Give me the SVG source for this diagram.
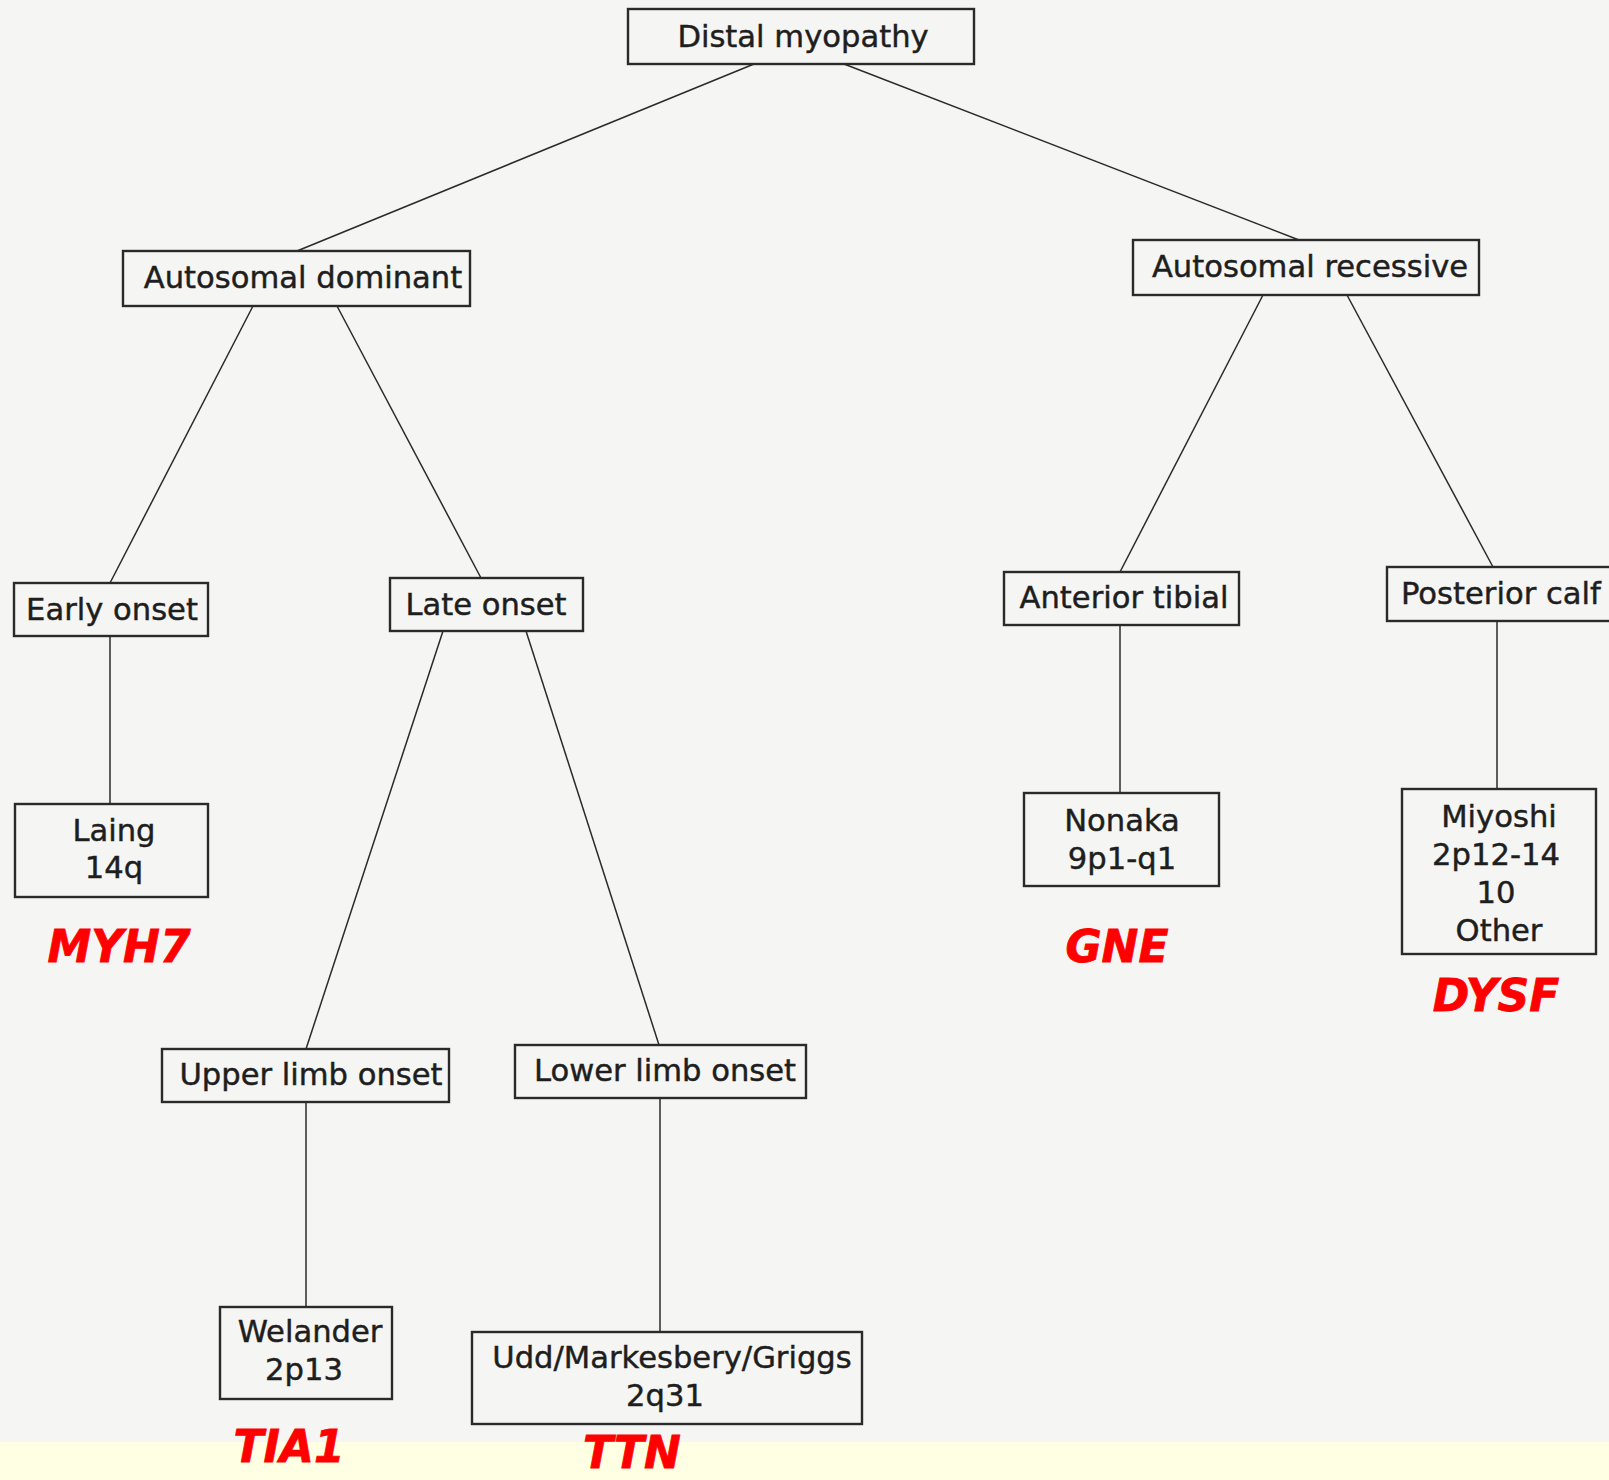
<svg xmlns="http://www.w3.org/2000/svg" width="1609" height="1480" viewBox="0 0 1609 1480">
  <style>
    .box rect { fill: none; stroke: #2a2a2a; stroke-width: 2.4; }
    .box text { font-family: "DejaVu Sans", "Liberation Sans", sans-serif; font-size: 30.6px; fill: #1e1e1e; stroke: #1e1e1e; stroke-width: 0.45; text-anchor: middle; }
    .gene { font-family: "DejaVu Sans", "Liberation Sans", sans-serif; font-size: 44px; font-weight: bold; font-style: italic; fill: #ff0000; stroke: #ff0000; stroke-width: 0.8; text-anchor: middle; }
    #links line { stroke: #2a2a2a; stroke-width: 1.5; }
  </style>

  <!-- page background and lower band -->
  <rect x="0" y="0" width="1609" height="1480" fill="#f5f5f3"/>
  <rect x="0" y="1442" width="1609" height="38" fill="#ffffe3"/>

  <!-- connectors -->
  <g id="links">
    <line x1="754" y1="64" x2="297" y2="251"/>
    <line x1="844" y1="64" x2="1299" y2="240"/>
    <line x1="253" y1="306" x2="110" y2="583"/>
    <line x1="337" y1="306" x2="481" y2="578"/>
    <line x1="1263" y1="295" x2="1120" y2="572"/>
    <line x1="1347" y1="295" x2="1493" y2="567"/>
    <line x1="110" y1="636" x2="110" y2="804"/>
    <line x1="443" y1="631" x2="306" y2="1049"/>
    <line x1="526" y1="631" x2="659" y2="1045"/>
    <line x1="1120" y1="625" x2="1120" y2="793"/>
    <line x1="1497" y1="621" x2="1497" y2="789"/>
    <line x1="306" y1="1102" x2="306" y2="1307"/>
    <line x1="660" y1="1098" x2="660" y2="1332"/>
  </g>

  <!-- nodes -->
  <g id="distal" class="box">
    <rect x="628" y="9" width="346" height="55"/>
    <text x="803" y="47">Distal myopathy</text>
  </g>
  <g id="dominant" class="box">
    <rect x="123" y="251" width="347" height="55"/>
    <text x="303" y="288">Autosomal dominant</text>
  </g>
  <g id="recessive" class="box">
    <rect x="1133" y="240" width="346" height="55"/>
    <text x="1310" y="277">Autosomal recessive</text>
  </g>
  <g id="early" class="box">
    <rect x="14" y="583" width="194" height="53"/>
    <text x="112" y="620">Early onset</text>
  </g>
  <g id="late" class="box">
    <rect x="390" y="578" width="193" height="53"/>
    <text x="486" y="615">Late onset</text>
  </g>
  <g id="anterior" class="box">
    <rect x="1004" y="572" width="235" height="53"/>
    <text x="1124" y="608">Anterior tibial</text>
  </g>
  <g id="posterior" class="box">
    <rect x="1387" y="567" width="240" height="54"/>
    <text x="1401" y="604" style="text-anchor:start">Posterior calf</text>
  </g>
  <g id="laing" class="box">
    <rect x="15" y="804" width="193" height="93"/>
    <text x="114" y="841">Laing</text>
    <text x="114" y="878">14q</text>
  </g>
  <g id="nonaka" class="box">
    <rect x="1024" y="793" width="195" height="93"/>
    <text x="1122" y="831">Nonaka</text>
    <text x="1122" y="869">9p1-q1</text>
  </g>
  <g id="miyoshi" class="box">
    <rect x="1402" y="789" width="194" height="165"/>
    <text x="1499" y="827">Miyoshi</text>
    <text x="1496" y="865">2p12-14</text>
    <text x="1496" y="903">10</text>
    <text x="1499" y="941">Other</text>
  </g>
  <g id="upper" class="box">
    <rect x="162" y="1049" width="287" height="53"/>
    <text x="311" y="1085">Upper limb onset</text>
  </g>
  <g id="lower" class="box">
    <rect x="515" y="1045" width="291" height="53"/>
    <text x="665" y="1081">Lower limb onset</text>
  </g>
  <g id="welander" class="box">
    <rect x="220" y="1307" width="172" height="92"/>
    <text x="310" y="1342">Welander</text>
    <text x="304" y="1380">2p13</text>
  </g>
  <g id="udd" class="box">
    <rect x="472" y="1332" width="390" height="92"/>
    <text x="672" y="1368">Udd/Markesbery/Griggs</text>
    <text x="665" y="1406">2q31</text>
  </g>

  <!-- gene names -->
  <g id="genes">
    <text class="gene" x="119" y="962">MYH7</text>
    <text class="gene" x="1117" y="962">GNE</text>
    <text class="gene" x="1496" y="1011">DYSF</text>
    <text class="gene" x="289" y="1462">TIA1</text>
    <text class="gene" x="632" y="1468">TTN</text>
  </g>
</svg>
